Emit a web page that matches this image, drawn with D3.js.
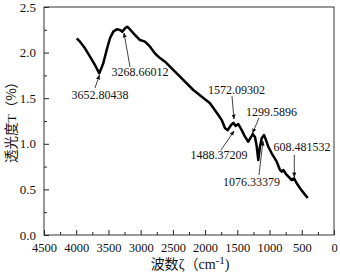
<!DOCTYPE html>
<html>
<head>
<meta charset="utf-8">
<script src="https://cdn.jsdelivr.net/npm/d3@7"></script>
<style>
  body { margin: 0; background: #fff; }
  svg text { font-family: "Liberation Serif", "Times New Roman", "Noto Sans CJK SC", serif; fill: #111; }
</style>
</head>
<body>
<div id="chart"></div>
<script>
// IR spectrum
const waveNumbers = [3993, 3941, 3864, 3786, 3709, 3642, 3580, 3527, 3476, 3425, 3372, 3321, 3285, 3243, 3207,
  3166, 3088, 3010, 2933, 2855, 2777, 2700, 2622, 2545, 2390, 2183, 1924, 1795, 1742, 1691, 1649, 1598, 1562,
  1525, 1485, 1432, 1381, 1330, 1261, 1226, 1200, 1175, 1149, 1122, 1086, 1055, 1019, 967, 889, 838, 811, 786,
  734, 656, 620, 579, 527, 481, 408]
const transmit = [2.157, 2.12, 2.047, 1.955, 1.864, 1.773, 1.883, 2.03, 2.157, 2.23, 2.255, 2.248, 2.23, 2.266, 2.284,
  2.255, 2.193, 2.138, 2.12, 2.065, 1.99, 1.94, 1.9, 1.845, 1.736, 1.59, 1.444, 1.316, 1.26, 1.17, 1.15, 1.206, 1.23,
  1.195, 1.217, 1.15, 1.078, 1.023, 1.107, 1.075, 0.976, 0.822, 0.968, 1.06, 1.096, 1.04, 0.968, 0.896, 0.804, 0.713, 0.694, 0.713,
  0.658, 0.603, 0.622, 0.567, 0.512, 0.47, 0.406]

const xTicks = [4500, 4000, 3500, 3000, 2500, 2000, 1500, 1000, 500, 0]
const yTicks = [0.0, 0.5, 1.0, 1.5, 2.0, 2.5]

// peak labels: text, label anchor (wn, T), arrow start and tip (wn, T)
const peakLabels = ['3652.80438', '3268.66012', '1572.09302', '1299.5896', '1488.37209', '1076.33379', '608.481532']
const labelPos = [[3631, 1.491], [3010, 1.743], [1513, 1.546], [970, 1.305], [1784, 0.833], [1279, 0.537], [496, 0.921]]
const arrowFrom = [[3709, 1.612], [3165, 1.842], [1583, 1.524], [1164, 1.283], [1753, 0.932], [1164, 0.658], [616, 0.877]]
const arrowTo = [[3639, 1.754], [3259, 2.215], [1552, 1.272], [1264, 1.118], [1552, 1.14], [1102, 1.03], [616, 0.636]]

const W = 340, H = 274
const margin = { top: 7, right: 6, bottom: 39, left: 44 }
const width = W - margin.left - margin.right
const height = H - margin.top - margin.bottom
const cjk = '"Noto Sans CJK SC", sans-serif'

const svg = d3.select('#chart').append('svg')
    .attr('width', W)
    .attr('height', H)

svg.append('defs').append('marker')
    .attr('id', 'arr')
    .attr('viewBox', '0 0 10 10')
    .attr('refX', 9).attr('refY', 5)
    .attr('markerWidth', 5).attr('markerHeight', 5)
    .attr('markerUnits', 'userSpaceOnUse')
    .attr('orient', 'auto')
  .append('path')
    .attr('d', 'M0,1L10,5L0,9z')
    .attr('fill', '#111')

const g = svg.append('g')
    .attr('transform', `translate(${margin.left},${margin.top})`)

const x = d3.scaleLinear().domain([4500, 0]).range([0, width])
const y = d3.scaleLinear().domain([0, 2.5]).range([height, 0])

// minor ticks (inward)
g.append('g')
    .attr('transform', `translate(0,${height})`)
    .call(d3.axisBottom(x).tickValues(d3.range(250, 4500, 500)).tickSize(-3).tickFormat(''))
    .call(a => a.select('.domain').remove())
g.append('g')
    .call(d3.axisLeft(y).tickValues(d3.range(0.25, 2.5, 0.5)).tickSize(-3).tickFormat(''))
    .call(a => a.select('.domain').remove())

// major axes
const xAxis = g.append('g')
    .attr('transform', `translate(0,${height})`)
    .call(d3.axisBottom(x).tickValues(xTicks).tickSize(-5).tickPadding(8).tickFormat(d3.format('d')))
xAxis.selectAll('text').attr('font-size', '12.5px')

const yAxis = g.append('g')
    .call(d3.axisLeft(y).tickValues(yTicks).tickSize(-5).tickPadding(8).tickFormat(d3.format('.1f')))
yAxis.selectAll('text').attr('font-size', '13px')

g.selectAll('.tick line').attr('stroke', '#222')
g.selectAll('.domain').remove()

// frame
g.append('rect')
    .attr('width', width).attr('height', height)
    .attr('fill', 'none').attr('stroke', '#333').attr('stroke-width', 1)

// spectrum
const pts = waveNumbers.map((w, i) => [w, transmit[i]])
g.append('path')
    .datum(pts)
    .attr('fill', 'none')
    .attr('stroke', '#000')
    .attr('stroke-width', 2.5)
    .attr('stroke-linejoin', 'round')
    .attr('d', d3.line().x(d => x(d[0])).y(d => y(d[1])))

// arrows + labels
peakLabels.forEach((t, i) => {
    g.append('line')
        .attr('x1', x(arrowFrom[i][0])).attr('y1', y(arrowFrom[i][1]))
        .attr('x2', x(arrowTo[i][0])).attr('y2', y(arrowTo[i][1]))
        .attr('stroke', '#111').attr('stroke-width', 0.8)
        .attr('marker-end', 'url(#arr)')
    g.append('text')
        .attr('x', x(labelPos[i][0])).attr('y', y(labelPos[i][1]))
        .attr('text-anchor', 'middle')
        .attr('font-size', '12px')
        .text(t)
})

// axis titles
const xt = svg.append('text')
    .attr('x', 190).attr('y', 269)
    .attr('text-anchor', 'middle')
    .attr('font-size', '14px')
xt.append('tspan').attr('font-family', cjk).text('波数')
xt.append('tspan').text('ζ')
xt.append('tspan').attr('font-family', cjk).text('（')
xt.append('tspan').text('cm')
xt.append('tspan').attr('dy', -5).attr('font-size', '11px').text('-1')
xt.append('tspan').attr('dy', 5).text(')')

const yt = svg.append('text')
    .attr('transform', 'translate(16,119) rotate(-90)')
    .attr('text-anchor', 'middle')
    .attr('font-size', '13.5px')
yt.append('tspan').attr('font-family', cjk).text('透光度')
yt.append('tspan').text('T')
yt.append('tspan').attr('font-family', cjk).text('（%）')
</script>
</body>
</html>
